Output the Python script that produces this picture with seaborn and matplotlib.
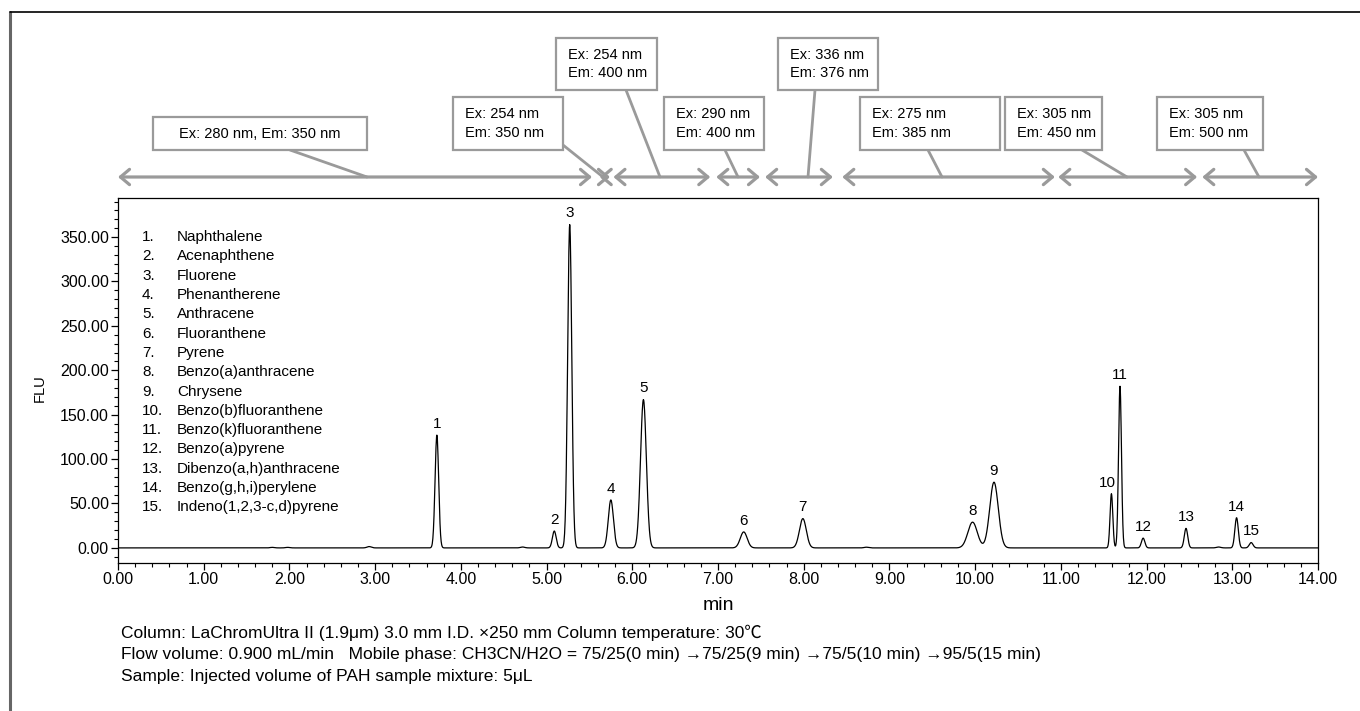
import numpy as np
import pandas as pd
import seaborn as sns
import matplotlib.pyplot as plt
from matplotlib.patches import Rectangle, FancyArrowPatch
from matplotlib.lines import Line2D
from matplotlib import transforms
from matplotlib.ticker import MultipleLocator, FormatStrFormatter

# peak table (retention time min, height FLU, width sigma min)
peak_times = [3.72, 5.09, 5.27, 5.75, 6.13, 7.30, 7.99, 9.97, 10.22, 11.59, 11.69, 11.96, 12.46, 13.05, 13.22]
peak_heights = [127, 19, 364, 54, 167, 18, 33, 29, 74, 61, 182, 11, 22, 34, 6]
peak_widths = [0.021, 0.022, 0.024, 0.03, 0.034, 0.04, 0.04, 0.055, 0.05, 0.016, 0.017, 0.02, 0.02, 0.02, 0.022]

# small unlabeled bumps on the baseline
bump_times = [1.80, 1.98, 2.93, 4.72, 8.73, 12.84]
bump_heights = [0.6, 0.6, 1.5, 1.0, 0.8, 1.0]

compounds = ["Naphthalene", "Acenaphthene", "Fluorene", "Phenantherene", "Anthracene",
             "Fluoranthene", "Pyrene", "Benzo(a)anthracene", "Chrysene",
             "Benzo(b)fluoranthene", "Benzo(k)fluoranthene", "Benzo(a)pyrene",
             "Dibenzo(a,h)anthracene", "Benzo(g,h,i)perylene", "Indeno(1,2,3-c,d)pyrene"]

# detector wavelength program (time windows, min)
seg_start = [0.0, 5.62, 5.78, 6.98, 7.55, 8.45, 10.97, 12.65]
seg_end = [5.53, 5.74, 6.91, 7.49, 8.34, 10.93, 12.59, 14.0]
seg_labels = ["Ex: 280 nm, Em: 350 nm", "Ex: 254 nm\nEm: 350 nm", "Ex: 254 nm\nEm: 400 nm",
              "Ex: 290 nm\nEm: 400 nm", "Ex: 336 nm\nEm: 376 nm", "Ex: 275 nm\nEm: 385 nm",
              "Ex: 305 nm\nEm: 450 nm", "Ex: 305 nm\nEm: 500 nm"]

notes = ["Column: LaChromUltra II (1.9μm) 3.0 mm I.D. ×250 mm Column temperature: 30℃",
         "Flow volume: 0.900 mL/min   Mobile phase: CH3CN/H2O = 75/25(0 min) →75/25(9 min) →75/5(10 min) →95/5(15 min)",
         "Sample: Injected volume of PAH sample mixture: 5μL"]

t = np.linspace(0, 14, 4201)
signal = np.zeros_like(t)
for rt, h, w in zip(peak_times, peak_heights, peak_widths):
    signal += h * np.exp(-(t - rt) ** 2 / (2 * w ** 2))
for rt, h in zip(bump_times, bump_heights):
    signal += h * np.exp(-(t - rt) ** 2 / (2 * 0.025 ** 2))
df = pd.DataFrame({"min": t, "FLU": signal})

sns.set_style("white")
plt.rcParams['font.family'] = ['Liberation Sans', 'Noto Sans CJK JP', 'DejaVu Sans']
plt.rcParams['text.color'] = 'black'
plt.rcParams['xtick.color'] = 'black'
plt.rcParams['ytick.color'] = 'black'

W, H = 1360, 711
fig = plt.figure(figsize=(W / 100, H / 100), dpi=100)

def fx(x):
    return x / W

def fy(y):
    return 1 - y / H

ax = fig.add_axes([fx(118), fy(563), 1200 / W, 365 / H])
sns.lineplot(data=df, x="min", y="FLU", ax=ax, color="black", linewidth=0.9)
ax.set_xlim(0, 14)
ax.set_ylim(-17, 394)
ax.xaxis.set_major_locator(MultipleLocator(1))
ax.xaxis.set_minor_locator(MultipleLocator(0.2))
ax.yaxis.set_minor_locator(MultipleLocator(10))
ax.xaxis.set_major_formatter(FormatStrFormatter('%.2f'))
ax.yaxis.set_major_formatter(FormatStrFormatter('%.2f'))
ax.set_yticks([v for v in np.arange(0, 351, 50)])
ax.tick_params(which='major', direction='out', length=5, width=0.9, labelsize=11.5, pad=1.5)
ax.tick_params(which='minor', direction='out', length=3, width=0.8)
ax.tick_params(axis='x', which='both', bottom=True)
ax.tick_params(axis='y', which='both', left=True)
ax.set_xlabel("")
ax.set_ylabel("")
for s in ax.spines.values():
    s.set_color("black")
    s.set_linewidth(0.9)

fig.text(fx(40), fy(388), "FLU", rotation=90, ha='center', va='center', fontsize=10.5)
fig.text(fx(718), fy(606), "min", ha='center', va='center', fontsize=14)

# peak numbers
for i, (rt, h) in enumerate(zip(peak_times, peak_heights)):
    dx = -3 if i == 9 else 0
    ax.annotate(str(i + 1), (rt, h), xytext=(dx, 3), textcoords='offset points',
                ha='center', va='bottom', fontsize=11)

# compound list
for i, name in enumerate(compounds):
    yy = 0.893 - i * 0.0529
    ax.text(0.02, yy, f"{i + 1}.", transform=ax.transAxes, fontsize=11, va='center')
    ax.text(0.049, yy, name, transform=ax.transAxes, fontsize=11, va='center')

# overlay in pixel coordinates for the wavelength program
ov = fig.add_axes([0, 0, 1, 1], zorder=5)
ov.set_xlim(0, W)
ov.set_ylim(H, 0)
ov.axis('off')
ov.patch.set_alpha(0)

gray = "#9a9a9a"
arrow_y = 177
blend = transforms.blended_transform_factory(ax.transData, ov.transData)
for a, b in zip(seg_start, seg_end):
    arr = FancyArrowPatch((a, arrow_y), (b, arrow_y), transform=blend,
                          arrowstyle="<->,head_length=0.65,head_width=0.55",
                          mutation_scale=10, color=gray, linewidth=2.3,
                          shrinkA=0, shrinkB=0, clip_on=False)
    ov.add_patch(arr)

# box layout: (left, top, right, bottom) px, leader start (x, y), leader end x
boxes = [(153, 117, 367, 150, 290, 150, 367),
         (453, 97, 563, 150, 563, 145, 603),
         (556, 38, 657, 90, 626, 90, 660),
         (664, 97, 764, 150, 725, 150, 738),
         (778, 38, 878, 90, 815, 90, 808),
         (860, 97, 1000, 150, 928, 150, 942),
         (1005, 97, 1102, 150, 1082, 150, 1127),
         (1157, 97, 1263, 150, 1244, 150, 1259)]
for (l, tp, r, bt, lx, ly, ex), lab in zip(boxes, seg_labels):
    ov.add_line(Line2D([lx, ex], [ly, arrow_y], color=gray, linewidth=2.0, zorder=3))
    ov.add_patch(Rectangle((l, tp), r - l, bt - tp, facecolor='white', edgecolor=gray,
                           linewidth=1.6, zorder=4))
    if "\n" in lab:
        ov.text(l + 12, (tp + bt) / 2, lab, ha='left', va='center', fontsize=10.5,
                linespacing=1.4, zorder=5)
    else:
        ov.text((l + r) / 2, (tp + bt) / 2, lab, ha='center', va='center', fontsize=10.5, zorder=5)

# notes below the chart
for i, line in enumerate(notes):
    fig.text(fx(121), fy(633 + i * 22), line, ha='left', va='center', fontsize=12.5)

# outer frame (top and left edges)
ov.add_line(Line2D([10, 10], [H, 12], color="#666666", linewidth=2.2))
ov.add_line(Line2D([10, W], [12, 12], color="black", linewidth=1.2))

fig.savefig("out.png", dpi=100)
